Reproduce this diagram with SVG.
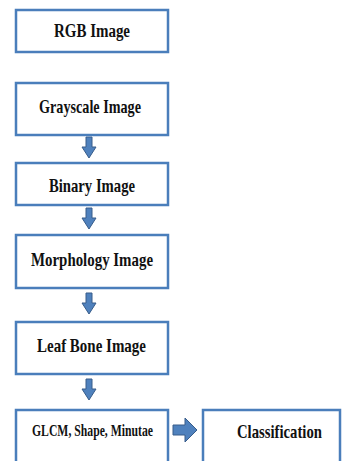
<svg xmlns="http://www.w3.org/2000/svg" width="342" height="461" viewBox="0 0 342 461">
<defs>
<style>
.box{fill:#fff;stroke:#4a7ebb;stroke-width:2.5}
.lbl{font-family:"Liberation Serif","Times New Roman",serif;font-weight:bold;fill:#111;text-anchor:middle}
.arr{fill:#4f81bd;stroke:#385d8a;stroke-width:1}
</style>
<path id="down" d="M-3,0 H3 V10 H7 L0,21 L-7,10 H-3 Z"/>
</defs>
<g id="connectors">
<use href="#down" class="arr" x="89" y="137"/>
<use href="#down" class="arr" x="89" y="208"/>
<use href="#down" class="arr" x="89" y="293"/>
<use href="#down" class="arr" x="89" y="379"/>
<path class="arr" d="M173,425 H185 V418 L197,430 L185,442 V435 H173 Z"/>
</g>
<g id="rgb"><rect class="box" x="16" y="10" width="152" height="42"/><text class="lbl" x="92" y="37" font-size="18" textLength="76" lengthAdjust="spacingAndGlyphs">RGB Image</text></g>
<g id="grayscale"><rect class="box" x="16" y="83" width="152" height="52"/><text class="lbl" x="90" y="113" font-size="19" textLength="102" lengthAdjust="spacingAndGlyphs">Grayscale Image</text></g>
<g id="binary"><rect class="box" x="16" y="163" width="152" height="42"/><text class="lbl" x="92" y="192" font-size="19" textLength="86" lengthAdjust="spacingAndGlyphs">Binary Image</text></g>
<g id="morphology"><rect class="box" x="16" y="235" width="152" height="53"/><text class="lbl" x="92" y="266" font-size="19" textLength="122" lengthAdjust="spacingAndGlyphs">Morphology Image</text></g>
<g id="leafbone"><rect class="box" x="16" y="322" width="152" height="52"/><text class="lbl" x="91.5" y="352" font-size="19" textLength="109" lengthAdjust="spacingAndGlyphs">Leaf Bone Image</text></g>
<g id="features"><rect class="box" x="16" y="410" width="152" height="60"/><text class="lbl" x="92.5" y="436" font-size="16" textLength="121" lengthAdjust="spacingAndGlyphs">GLCM, Shape, Minutae</text></g>
<g id="classification"><rect class="box" x="203" y="410" width="137" height="60"/><text class="lbl" x="279.5" y="438" font-size="19" textLength="85" lengthAdjust="spacingAndGlyphs">Classification</text></g>
</svg>
